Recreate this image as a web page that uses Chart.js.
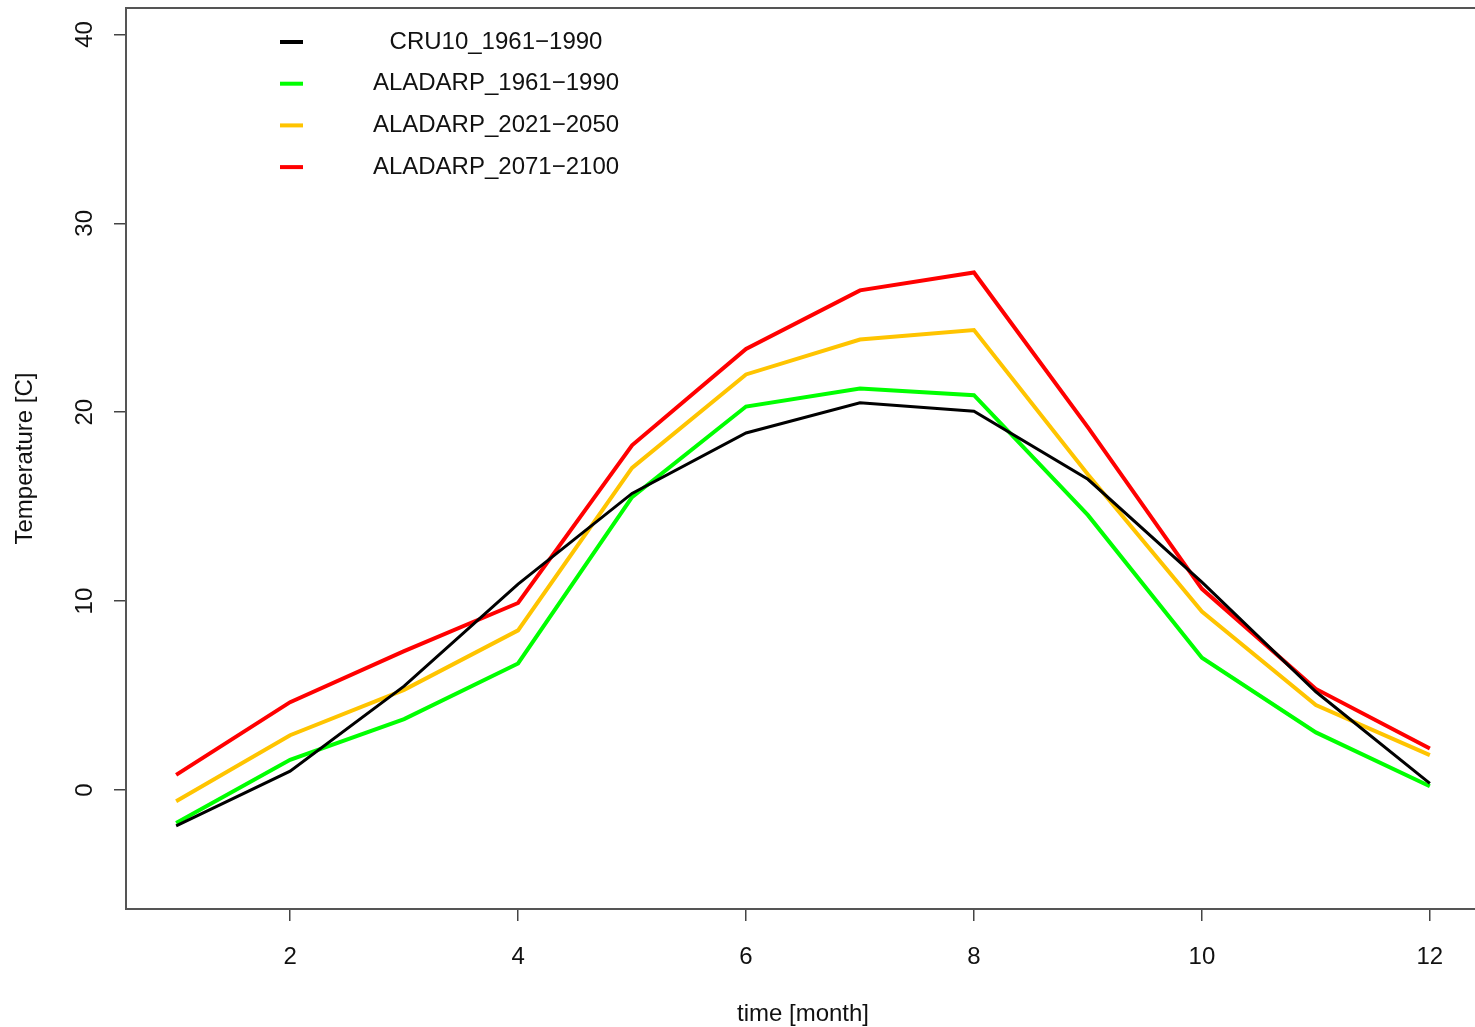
<html lang="en">
  <head>
    <meta charset="UTF-8" />
    <title>Temperature</title>
    <script src="https://cdn.jsdelivr.net/npm/chart.js"></script>
    <style>
      body { margin: 0; overflow: hidden; background: #fff; }
      #wrap { width: 1500px; height: 1027px; position: relative; }
    </style>
  </head>
  <body>
    <div id="wrap">
      <canvas id="temp-chart"></canvas>
    </div>
  </body>
  <script>
    // months on the x axis
    const months = [1, 2, 3, 4, 5, 6, 7, 8, 9, 10, 11, 12];
    const xTicks = [2, 4, 6, 8, 10, 12];
    const yTicks = [0, 10, 20, 30, 40];

    const seriesLabels = ["CRU10_1961\u22121990", "ALADARP_1961\u22121990", "ALADARP_2021\u22122050", "ALADARP_2071\u22122100"];
    const seriesColors = ["#000000", "#00ff00", "#ffc400", "#ff0000"];

    const cru_1961 = [-1.9, 1.0, 5.5, 10.9, 15.7, 18.9, 20.5, 20.05, 16.45, 11.0, 5.2, 0.35];
    const aladarp_1961 = [-1.75, 1.6, 3.75, 6.7, 15.5, 20.3, 21.25, 20.9, 14.55, 7.0, 3.05, 0.2];
    const aladarp_2021 = [-0.6, 2.9, 5.3, 8.45, 17.05, 22.0, 23.85, 24.35, 16.7, 9.45, 4.5, 1.85];
    const aladarp_2071 = [0.8, 4.65, 7.35, 9.9, 18.25, 23.35, 26.45, 27.4, 19.2, 10.65, 5.35, 2.2];

    const seriesData = [cru_1961, aladarp_1961, aladarp_2021, aladarp_2071];
    const lineWidths = [3, 4, 4, 4];

    const font = "'Liberation Sans', Arial, Helvetica, sans-serif";

    // box, rotated y labels, titles and legend like base R graphics
    const rPlot = {
      id: "rPlot",
      afterDraw(chart) {
        const ctx = chart.ctx;
        const a = chart.chartArea;
        const y = chart.scales.y;
        ctx.save();
        ctx.strokeStyle = "#555";
        ctx.lineWidth = 2;
        ctx.strokeRect(a.left, a.top, a.right - a.left, a.bottom - a.top);

        ctx.fillStyle = "#111";
        ctx.font = "24px " + font;
        ctx.textAlign = "center";
        ctx.textBaseline = "middle";
        yTicks.forEach((v) => {
          ctx.save();
          ctx.translate(85, y.getPixelForValue(v));
          ctx.rotate(-Math.PI / 2);
          ctx.fillText(String(v), 0, 0);
          ctx.restore();
        });

        ctx.save();
        ctx.translate(25, (a.top + a.bottom) / 2);
        ctx.rotate(-Math.PI / 2);
        ctx.fillText("Temperature [C]", 0, 0);
        ctx.restore();
        ctx.fillText("time [month]", 803, 1014);

        // legend, no box
        chart.data.datasets.forEach((ds, i) => {
          const ly = 42 + i * 41.7;
          ctx.strokeStyle = ds.borderColor;
          ctx.lineWidth = 4;
          ctx.beginPath();
          ctx.moveTo(280, ly);
          ctx.lineTo(303, ly);
          ctx.stroke();
          ctx.fillText(ds.label, 496, ly);
        });
        ctx.restore();
      },
    };

    new Chart(document.getElementById("temp-chart"), {
      type: "line",
      data: {
        datasets: seriesData.map((vals, i) => ({
          label: seriesLabels[i],
          data: vals.map((v, j) => ({ x: months[j], y: v })),
          borderColor: seriesColors[i],
          borderWidth: lineWidths[i],
          pointRadius: 0,
          tension: 0,
          fill: false,
        })),
      },
      options: {
        responsive: true,
        maintainAspectRatio: false,
        animation: false,
        layout: { padding: { left: 0, top: 8, right: 20, bottom: 0 } },
        plugins: { legend: { display: false }, tooltip: { enabled: false } },
        scales: {
          x: {
            type: "linear",
            min: 0.56,
            max: 12.44,
            afterBuildTicks: (s) => { s.ticks = xTicks.map((v) => ({ value: v })); },
            afterFit: (s) => { s.height = 118; },
            border: { display: false },
            grid: { drawOnChartArea: false, drawTicks: true, tickLength: 12, color: "#444", lineWidth: 1.5 },
            ticks: { color: "#111", font: { family: font, size: 24 }, padding: 22, maxRotation: 0 },
          },
          y: {
            type: "linear",
            min: -6.3,
            max: 41.4,
            afterBuildTicks: (s) => { s.ticks = yTicks.map((v) => ({ value: v })); },
            afterFit: (s) => { s.width = 126; },
            border: { display: false },
            grid: { drawOnChartArea: false, drawTicks: true, tickLength: 12, color: "#444", lineWidth: 1.5 },
            ticks: { display: false },
          },
        },
      },
      plugins: [rPlot],
    });
  </script>
</html>
